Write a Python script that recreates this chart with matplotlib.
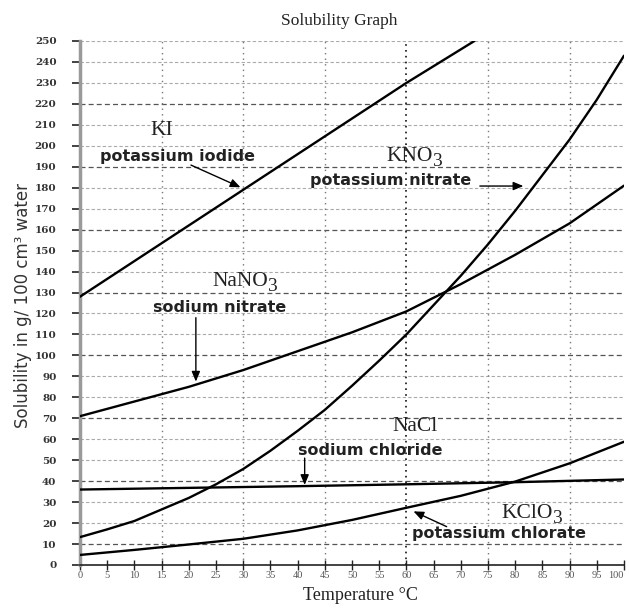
import matplotlib
matplotlib.use("Agg")
import matplotlib.pyplot as plt

# ---- data ----
ki_t = [0, 10, 20, 30, 40, 50, 60, 70, 72.5]
ki_s = [128, 145, 162, 179, 196, 213, 230, 246, 250]

kno3_t = [0, 5, 10, 15, 20, 25, 30, 35, 40, 45, 50, 55, 60, 65, 70, 75, 80, 85, 90, 95, 100]
kno3_s = [13.3, 17, 21, 26.5, 32, 38.5, 45.8, 54.5, 64, 74, 85.5, 97.5, 110, 124, 138, 153, 169, 186, 203, 222, 243]

nano3_t = [0, 10, 20, 30, 40, 50, 60, 70, 80, 90, 100]
nano3_s = [71, 78, 85, 93, 102, 111, 121, 134, 148, 163, 181]

nacl_t = [0, 20, 40, 60, 80, 100]
nacl_s = [36, 36.8, 37.6, 38.5, 39.5, 40.8]

kclo3_t = [0, 10, 20, 30, 40, 50, 60, 70, 80, 90, 100]
kclo3_s = [4.8, 7.2, 9.8, 12.5, 16.5, 21.5, 27.3, 33, 39.8, 48.5, 58.8]

x_ticks = list(range(0, 101, 5))
x_ticklabels = [str(v) for v in x_ticks]
y_ticks = list(range(0, 251, 10))
y_ticklabels = [str(v) for v in y_ticks]
v_grid = [15, 30, 45, 60, 75, 90]
dark_h_grid = [10, 40, 70, 100, 130, 160, 190, 220]

W, H = 629, 608
fig = plt.figure(figsize=(W / 100, H / 100), dpi=100)
ax = fig.add_axes([80 / W, 1 - 565 / H, (624 - 80) / W, (565 - 41) / H])
ax.set_xlim(0, 100)
ax.set_ylim(0, 250)

serif = "Liberation Serif"
col = "#222222"

# grid
for y in y_ticks[1:]:
    if y in dark_h_grid:
        ax.axhline(y, color="#555555", lw=0.9, ls=(0, (4, 2.5)), zorder=1)
    else:
        ax.axhline(y, color="#aaaaaa", lw=0.8, ls=(0, (3, 2)), zorder=1)
for x in v_grid:
    if x == 60:
        ax.axvline(x, color="#111111", lw=1.2, ls=(0, (1, 2.5)), zorder=1)
    else:
        ax.axvline(x, color="#777777", lw=1.0, ls=(0, (1, 3)), zorder=1)

lw = 1.7
for t, s in [(ki_t, ki_s), (kno3_t, kno3_s), (nano3_t, nano3_s), (nacl_t, nacl_s), (kclo3_t, kclo3_s)]:
    ax.plot(t, s, color="black", lw=lw, solid_capstyle="round", zorder=3)

# spines
for sp in ["top", "right"]:
    ax.spines[sp].set_visible(False)
ax.spines["left"].set_color("#9a9a9a")
ax.spines["left"].set_linewidth(2.5)
ax.spines["bottom"].set_color("#222222")
ax.spines["bottom"].set_linewidth(1.2)

ax.set_xticks(x_ticks)
ax.set_xticklabels(x_ticklabels, fontfamily=serif, fontsize=7.5, color="#555555")
ax.get_xticklabels()[-1].set_horizontalalignment("right")
ax.set_yticks(y_ticks)
ax.set_yticklabels(y_ticklabels, fontfamily="DejaVu Serif", fontsize=7.5, fontweight="bold", color="#333333")
ax.tick_params(axis="y", direction="out", length=6, width=1.2, color="#222222", pad=11)
ax.tick_params(axis="x", direction="inout", length=7, width=1.0, color="#222222", pad=0.5)

fig.text(360 / W, 1 - 595 / H, "Temperature °C", fontfamily=serif, fontsize=13,
         ha="center", va="center", color=col)
fig.text(23 / W, 1 - 306 / H, "Solubility in g/ 100 cm³ water", fontfamily="DejaVu Sans",
         fontsize=12, rotation=90, ha="center", va="center", color="#333333")
fig.text(339 / W, 1 - 21 / H, "Solubility Graph", fontfamily=serif, fontsize=12.5,
         ha="center", va="center", color=col)

# formula labels with a large, lowered subscript "3"
fsf = 15.5
def formula(x, y, main, sub=None):
    t = ax.text(x, y, main, fontfamily=serif, fontsize=fsf, ha="left", va="center", color=col)
    if sub:
        ax.annotate(sub, xy=(1, 0), xycoords=t, xytext=(0, -3), textcoords="offset points",
                    fontfamily=serif, fontsize=fsf * 0.9, ha="left", va="bottom", color=col)
    return t

formula(12.9, 207.5, "KI")
formula(56.4, 194.8, "KNO", "3")
formula(24.4, 135.2, "NaNO", "3")
formula(57.5, 66, "NaCl")
formula(77.5, 24.7, "KClO", "3")

fsb = 11.5
bold = dict(fontfamily="DejaVu Sans", fontweight="bold", fontsize=fsb, ha="left", va="center", color=col)
ax.text(3.7, 195, "potassium iodide", **bold)
ax.text(42.2, 183.3, "potassium nitrate", **bold)
ax.text(13.4, 123, "sodium nitrate", **bold)
ax.text(40.0, 54.5, "sodium chloride", **bold)
ax.text(61.0, 15.1, "potassium chlorate", **bold)

ap = dict(arrowstyle="-|>,head_length=0.6,head_width=0.25", color="black", lw=1.0, shrinkA=0, shrinkB=0)
ax.annotate("", xy=(29.5, 180.2), xytext=(20.4, 190.8), arrowprops=ap, zorder=4)
ax.annotate("", xy=(81.5, 180.8), xytext=(73.5, 180.8), arrowprops=ap, zorder=4)
ax.annotate("", xy=(21.3, 87.5), xytext=(21.3, 118), arrowprops=ap, zorder=4)
ax.annotate("", xy=(41.3, 38.2), xytext=(41.3, 51), arrowprops=ap, zorder=4)
ax.annotate("", xy=(61.3, 25.6), xytext=(67.4, 18.3), arrowprops=ap, zorder=4)

fig.savefig("out.png", dpi=100, facecolor="white")
